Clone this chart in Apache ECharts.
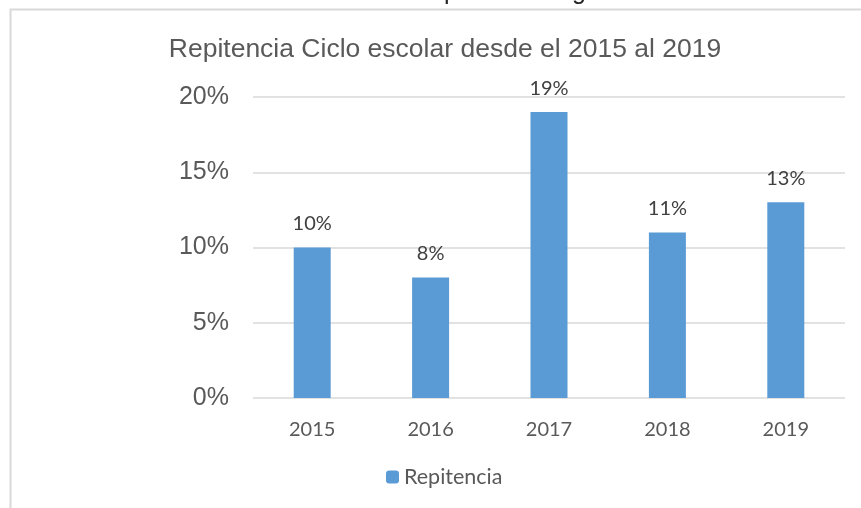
<!DOCTYPE html>
<html>
<head>
<meta charset="utf-8">
<script src="https://cdn.jsdelivr.net/npm/echarts@6/dist/echarts.min.js"></script>
<style>
  html, body { margin: 0; padding: 0; background: #fff; }
  #chart { width: 861px; height: 508px; }
</style>
</head>
<body>
<div id="chart"></div>
<script>
// datos
const years = ['2015', '2016', '2017', '2018', '2019'];
const repitencia = [10, 8, 19, 11, 13];
const yTicks = [0, 5, 10, 15, 20];

const chart = echarts.init(document.getElementById('chart'));

chart.setOption({
  animation: false,
  title: {
    text: 'Repitencia Ciclo escolar desde el 2015 al 2019',
    left: 440,
    top: 31,
    textAlign: 'center',
    textStyle: {
      fontFamily: 'Liberation Sans Narrow, Liberation Sans, sans-serif',
      fontSize: 26.5,
      fontWeight: 'normal',
      color: '#595959',
    },
  },
  graphic: [
    // marco del gráfico
    {
      type: 'polyline',
      shape: { points: [[10.5, 510], [10.5, 9.5], [870, 9.5]] },
      style: { stroke: '#d9d9d9', lineWidth: 2, fill: null },
    },
    // texto cortado arriba
    {
      type: 'text',
      left: 262,
      top: -20.5,
      style: {
        text: 'Gráfica no. 1 Repitencia de grado',
        font: '25px Liberation Sans',
        fill: '#262626',
      },
    },
  ],
  legend: {
    data: ['Repitencia'],
    left: 381,
    top: 461,
    itemWidth: 13,
    itemHeight: 13,
    itemGap: 6,
    textStyle: { fontFamily: 'Lato', fontSize: 21.5, color: '#595959' },
  },
  grid: { left: 253, right: 16, top: 97, bottom: 110 },
  xAxis: {
    type: 'category',
    data: years,
    axisLine: { show: false },
    axisTick: { show: false },
    axisLabel: { fontFamily: 'Lato', fontSize: 20, color: '#595959', margin: 22 },
  },
  yAxis: {
    type: 'value',
    min: yTicks[0],
    max: yTicks[yTicks.length - 1],
    interval: 5,
    axisLine: { show: false },
    axisTick: { show: false },
    splitLine: { lineStyle: { color: '#d9d9d9', width: 1.5 } },
    axisLabel: {
      fontFamily: 'Liberation Sans',
      fontSize: 25,
      color: '#595959',
      margin: 24,
      formatter: (v) => v + '%',
    },
  },
  series: [
    {
      name: 'Repitencia',
      type: 'bar',
      data: repitencia,
      barWidth: 37,
      itemStyle: { color: '#5b9bd5' },
      label: {
        show: true,
        position: 'top',
        distance: 14,
        fontFamily: 'Lato',
        fontSize: 20,
        color: '#404040',
        formatter: (p) => p.value + '%',
      },
    },
  ],
});
</script>
</body>
</html>
